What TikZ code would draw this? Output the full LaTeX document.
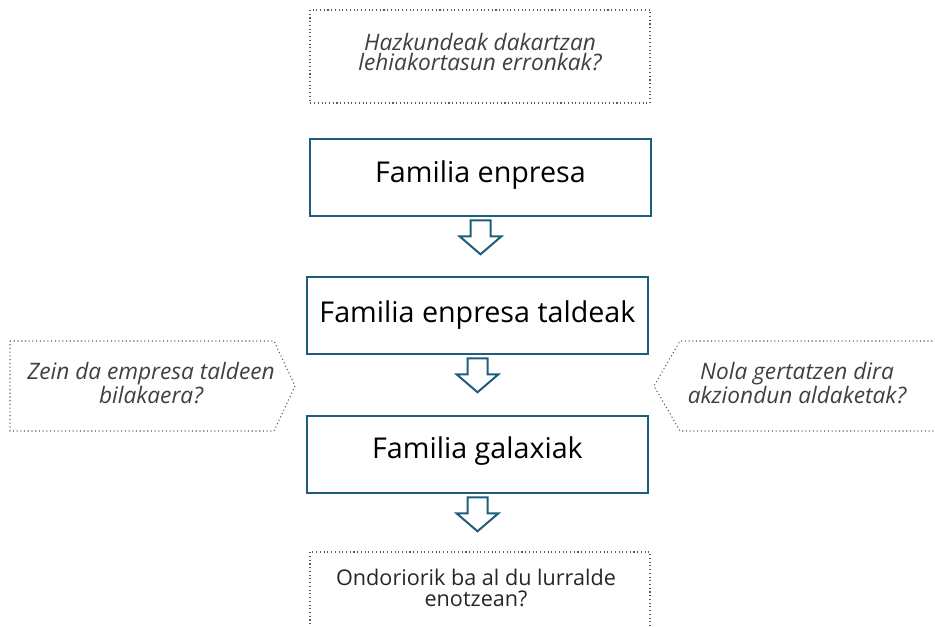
\documentclass[tikz,border=0pt]{standalone}
\usepackage{fontspec}
\setmainfont{Open Sans}
\usetikzlibrary{calc}
\definecolor{boxblue}{RGB}{31,93,124}
\definecolor{qgray}{RGB}{64,64,64}
\definecolor{dotgray}{RGB}{90,90,90}

\begin{document}
\begin{tikzpicture}[x=0.75pt,y=0.75pt,yscale=-1,xscale=1,
  mainbox/.style={draw=boxblue,line width=1.9pt,minimum width=255.75pt,minimum height=57.75pt,
    font=\fontsize{21.5}{24}\selectfont,inner sep=0pt},
  blockarrow/.style={draw=boxblue,line width=1.5pt,line join=miter},
  qline/.style={draw=dotgray,dotted,line width=0.8pt},
  qtext/.style={align=center,text=qgray,font=\fontsize{17}{15.5}\selectfont\itshape,inner sep=0.75pt}]
\useasboundingbox (0,0) rectangle (935,627);

% question frames
\draw[qline] (310,10) rectangle (650,103);
\draw[qline] (10,341) -- (274,341) -- (295,386) -- (274,431) -- (10,431) -- cycle;
\draw[qline] (936,341) -- (680,341) -- (654,386) -- (680,431) -- (936,431);
\draw[qline] (310,628) -- (310,552) -- (650,552) -- (650,628);

% main boxes
\node[mainbox,text depth=9pt] (fe) at (480.5,177.5) {Familia enpresa};
\node[mainbox] (fet) at (477.5,315.5) {Familia enpresa taldeak};
\node[mainbox,text depth=11pt] (fg) at (477.5,454.5) {Familia galaxiak};

% block arrows
\foreach \b in {fe,fet,fg}
  \draw[blockarrow] ($(\b.south)+(-10,3)$) -- ++(20,0) -- ++(0,16) -- ++(11,0)
    -- ++(-21,18) -- ++(-21,-18) -- ++(11,0) -- cycle;

% questions
\node[qtext] (q1) at (480,52) {Hazkundeak dakartzan\\lehiakortasun erronkak?};
\node[qtext] (q2) at (151,383) {Zein da empresa taldeen\\bilakaera?};
\node[qtext] (q3) at (797,383) {Nola gertatzen dira\\akziondun aldaketak?};
\node[qtext,font=\fontsize{16.2}{15.5}\selectfont,text=black!85] (q4) at (476,588) {Ondoriorik ba al du lurralde\\enotzean?};

\end{tikzpicture}
\end{document}
